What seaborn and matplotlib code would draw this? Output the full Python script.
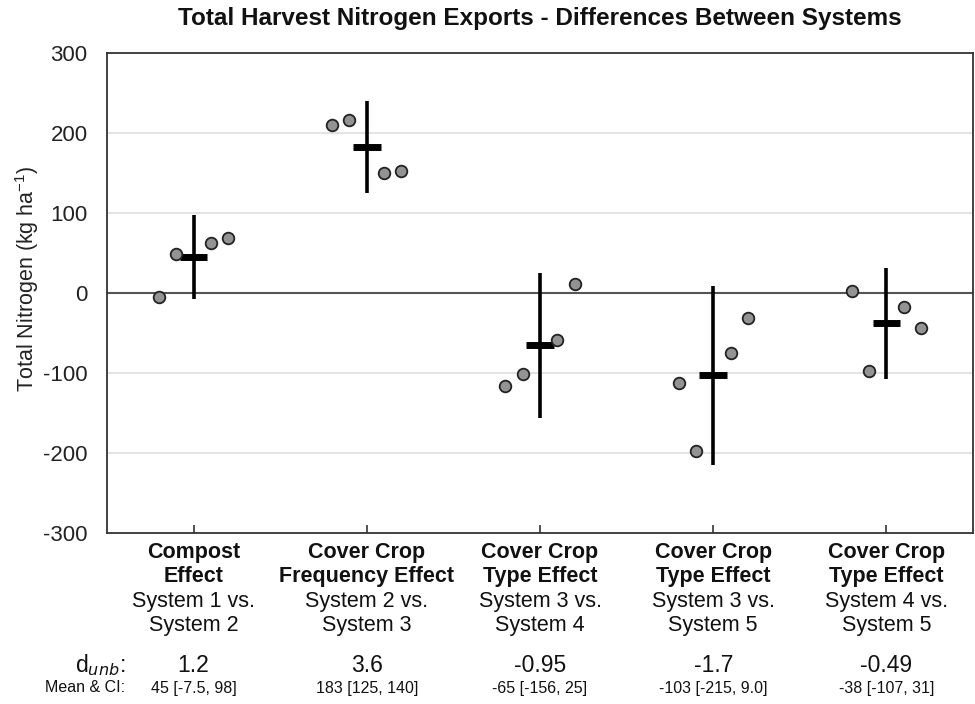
import matplotlib
matplotlib.use("Agg")
import matplotlib.pyplot as plt
import matplotlib.transforms as mtransforms
import numpy as np
import pandas as pd
import seaborn as sns

# Comparison groups (bold heading + plain subheading)
effects = ["Compost\nEffect", "Cover Crop\nFrequency Effect", "Cover Crop\nType Effect",
           "Cover Crop\nType Effect", "Cover Crop\nType Effect"]
contrasts = ["System 1 vs.\nSystem 2", "System 2 vs.\nSystem 3", "System 3 vs.\nSystem 4",
             "System 3 vs.\nSystem 5", "System 4 vs.\nSystem 5"]

# Paired differences per block (kg N / ha), four blocks per comparison
block1 = [-5, 49, 62, 69]
block2 = [210, 216, 150, 152]
block3 = [-116, -101, -59, 11]
block4 = [-112, -197, -75, -31]
block5 = [3, -97, -17, -44]

# Mean difference and 95% CI
means = [45, 183, -65, -103, -38]
ci_low = [-7.5, 125, -156, -215, -107]
ci_high = [98, 240, 25, 9.0, 31]

# Effect sizes and summary strings printed under each group
d_unb = ["1.2", "3.6", "-0.95", "-1.7", "-0.49"]
mean_ci = ["45 [-7.5, 98]", "183 [125, 140]", "-65 [-156, 25]",
           "-103 [-215, 9.0]", "-38 [-107, 31]"]

yticks = [-300, -200, -100, 0, 100, 200, 300]

blocks = [block1, block2, block3, block4, block5]
offsets = [-0.2, -0.1, 0.1, 0.2]
rows = []
for i, vals in enumerate(blocks):
    for j, v in enumerate(vals):
        rows.append({"x": i + offsets[j], "value": v})
df = pd.DataFrame(rows)

sns.set_theme(style="white")
plt.rcParams["font.family"] = ["Liberation Sans", "DejaVu Sans"]
plt.rcParams["axes.unicode_minus"] = False

fig = plt.figure(figsize=(9.75, 7.04), dpi=100)
ax = fig.add_axes([0.1097, 0.2429, 0.8883, 0.6818])

ax.set_xlim(-0.5, 4.5)
ax.set_ylim(-300, 300)

# light grid and zero reference line
for y in yticks[1:-1]:
    if y == 0:
        ax.axhline(0, color="#555555", lw=1.5, zorder=1)
    else:
        ax.axhline(y, color="#e0e0e0", lw=1.3, zorder=0)

sns.scatterplot(data=df, x="x", y="value", ax=ax, s=70, color="#939393",
                edgecolor="#222222", linewidth=1.3, zorder=4, legend=False)

xs = np.arange(len(means))
ax.vlines(xs, ci_low, ci_high, color="black", lw=2.6, zorder=3)
ax.hlines(means, xs - 0.08, xs + 0.08, color="black", lw=5, zorder=3)

ax.set_yticks(yticks)
ax.set_yticklabels([str(t) for t in yticks], fontsize=16, color="#222222")
ax.tick_params(axis="y", length=0, pad=14)
ax.set_xticks(xs)
ax.set_xticklabels([])
ax.tick_params(axis="x", direction="in", length=6, width=1.2, color="#333333", bottom=True)
ax.set_xlabel("")
ax.set_ylabel("")
for sp in ax.spines.values():
    sp.set_color("#333333")
    sp.set_linewidth(1.3)

H = 704.0
W = 975.0
fig.text(27 / W, 1 - 279 / H, "Total Nitrogen (kg ha$^{\\mathregular{-1}}$)", rotation=90,
         ha="center", va="center", fontsize=15.5, color="#222222")

fig.text(540 / W, 1 - 18 / H, "Total Harvest Nitrogen Exports - Differences Between Systems",
         ha="center", va="center", fontsize=17.5, fontweight="bold", color="#111111")

trans = mtransforms.blended_transform_factory(ax.transData, fig.transFigure)
for i in range(len(means)):
    ax.text(i, 1 - 542 / H, effects[i], transform=trans, ha="center", va="top",
            fontsize=15.5, fontweight="bold", linespacing=1.17, color="#111111")
    ax.text(i, 1 - 591 / H, contrasts[i], transform=trans, ha="center", va="top",
            fontsize=15.5, linespacing=1.17, color="#111111")
    ax.text(i, 1 - 665 / H, d_unb[i], transform=trans, ha="center", va="center",
            fontsize=16.5, color="#111111")
    ax.text(i, 1 - 688 / H, mean_ci[i], transform=trans, ha="center", va="center",
            fontsize=11.5, color="#111111")

fig.text(125 / W, 1 - 665 / H, "d$_{unb}$:", ha="right", va="center",
         fontsize=16.5, color="#111111")
fig.text(125 / W, 1 - 688 / H, "Mean & CI:", ha="right", va="center",
         fontsize=11.5, color="#111111")

fig.savefig("out.png", dpi=100)
